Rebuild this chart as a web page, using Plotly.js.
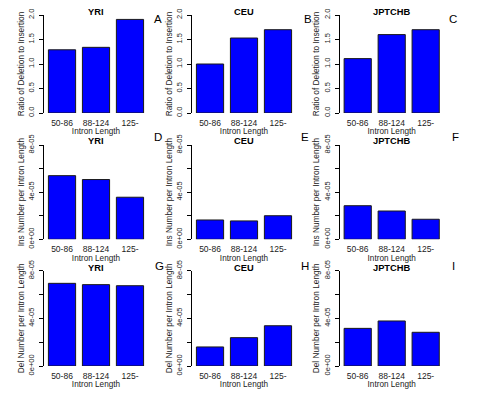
<!DOCTYPE html>
<html><head><meta charset="utf-8">
<script src="https://cdn.plot.ly/plotly-3.0.1.min.js"></script>
<style>html,body{margin:0;padding:0;background:#fff}</style>
</head><body><div id="chart" style="width:486px;height:398px"></div>
<script>
// ---- data ----
const categories = ["50-86", "88-124", "125-"];
const populations = ["YRI", "CEU", "JPTCHB"];
const ratioYRI = [1.29, 1.34, 1.91];
const ratioCEU = [1.00, 1.53, 1.70];
const ratioJPTCHB = [1.11, 1.60, 1.70];
const insYRI = [5.40e-5, 5.07e-5, 3.57e-5];
const insCEU = [1.64e-5, 1.56e-5, 2.00e-5];
const insJPTCHB = [2.85e-5, 2.40e-5, 1.70e-5];
const delYRI = [6.94e-5, 6.83e-5, 6.74e-5];
const delCEU = [1.60e-5, 2.38e-5, 3.38e-5];
const delJPTCHB = [3.16e-5, 3.78e-5, 2.83e-5];
const panelLetters = ["A", "B", "C", "D", "E", "F", "G", "H", "I"];
const rowYTitles = ["Ratio of Deletion to Insertion", "Ins Number per Intron Length", "Del Number per Intron Length"];
const xTitle = "Intron Length";
const ratioTickVals = [0, 0.5, 1, 1.5, 2];
const ratioTickText = ["0.0", "0.5", "1.0", "1.5", "2.0"];
const densTickVals = [0, 2e-5, 4e-5, 6e-5, 8e-5];
const densTickText = ["0e+00", "", "4e-05", "", "8e-05"];

const rowsData = [
  [ratioYRI, ratioCEU, ratioJPTCHB],
  [insYRI, insCEU, insJPTCHB],
  [delYRI, delCEU, delJPTCHB]
];

// ---- layout geometry (px) ----
const W = 486, H = 398;
const colX = [[44, 148], [192, 296], [339.7, 443.7]];
const rowY = [[15, 113], [145, 239.3], [270.7, 366]];
const titleY = [12.5, 141, 267.5];
const letterPos = [[158, 19], [308, 19], [453, 19], [158, 136.5], [305, 136.5], [455, 136.5], [159, 266], [305, 266], [453, 266]];
const FONT = "Liberation Sans, Arial, Helvetica, sans-serif";

const traces = [];
const layout = {
  width: W, height: H,
  margin: {l: 0, r: 0, t: 0, b: 0},
  paper_bgcolor: "#fff", plot_bgcolor: "#fff",
  showlegend: false,
  font: {family: FONT, color: "#000"},
  annotations: []
};

for (let r = 0; r < 3; r++) {
  for (let c = 0; c < 3; c++) {
    const i = r * 3 + c + 1;
    const xa = i === 1 ? "x" : "x" + i;
    const ya = i === 1 ? "y" : "y" + i;
    traces.push({
      type: "bar", x: categories, y: rowsData[r][c],
      xaxis: xa, yaxis: ya,
      marker: {color: "#0000FF", line: {color: "#1a1a1a", width: 1}},
      hoverinfo: "x+y"
    });
    const xk = i === 1 ? "xaxis" : "xaxis" + i;
    const yk = i === 1 ? "yaxis" : "yaxis" + i;
    layout[xk] = {
      domain: [colX[c][0] / W, colX[c][1] / W],
      anchor: ya, type: "category",
      range: [-0.53, 2.53],
      showline: false, showgrid: false, zeroline: false,
      ticks: "", tickfont: {size: 8.5, family: FONT, color: "#222"},
      ticklabelstandoff: 3,
      title: {text: xTitle, font: {size: 8.2, family: FONT, color: "#222"}, standoff: 1},
      fixedrange: true
    };
    layout[yk] = {
      domain: [1 - rowY[r][1] / H, 1 - rowY[r][0] / H],
      anchor: xa,
      range: r === 0 ? [0, 2] : [0, 8e-5],
      tickmode: "array",
      tickvals: r === 0 ? ratioTickVals : densTickVals,
      ticktext: r === 0 ? ratioTickText : densTickText,
      tickangle: -90,
      ticks: "outside", ticklen: 4, tickwidth: 1, tickcolor: "#000",
      showline: true, linecolor: "#000", linewidth: 1,
      showgrid: false, zeroline: false,
      tickfont: {size: 7.5, family: FONT, color: "#222"},
      ticklabelstandoff: 2,
      title: {text: rowYTitles[r], font: {size: 8.3, family: FONT, color: "#222"}, standoff: 1},
      fixedrange: true
    };
    layout.annotations.push({
      xref: "paper", yref: "paper",
      x: (colX[c][0] + colX[c][1]) / 2 / W, y: 1 - titleY[r] / H,
      xanchor: "center", yanchor: "middle",
      text: populations[c], showarrow: false,
      font: {size: 9.3, family: FONT, weight: "bold"}
    });
    const lp = letterPos[i - 1];
    layout.annotations.push({
      xref: "paper", yref: "paper",
      x: lp[0] / W, y: 1 - lp[1] / H,
      xanchor: "center", yanchor: "middle",
      text: panelLetters[i - 1], showarrow: false,
      font: {size: 11.5, family: FONT}
    });
  }
}

Plotly.newPlot("chart", traces, layout, {displayModeBar: false, staticPlot: true});
</script>
</body></html>
